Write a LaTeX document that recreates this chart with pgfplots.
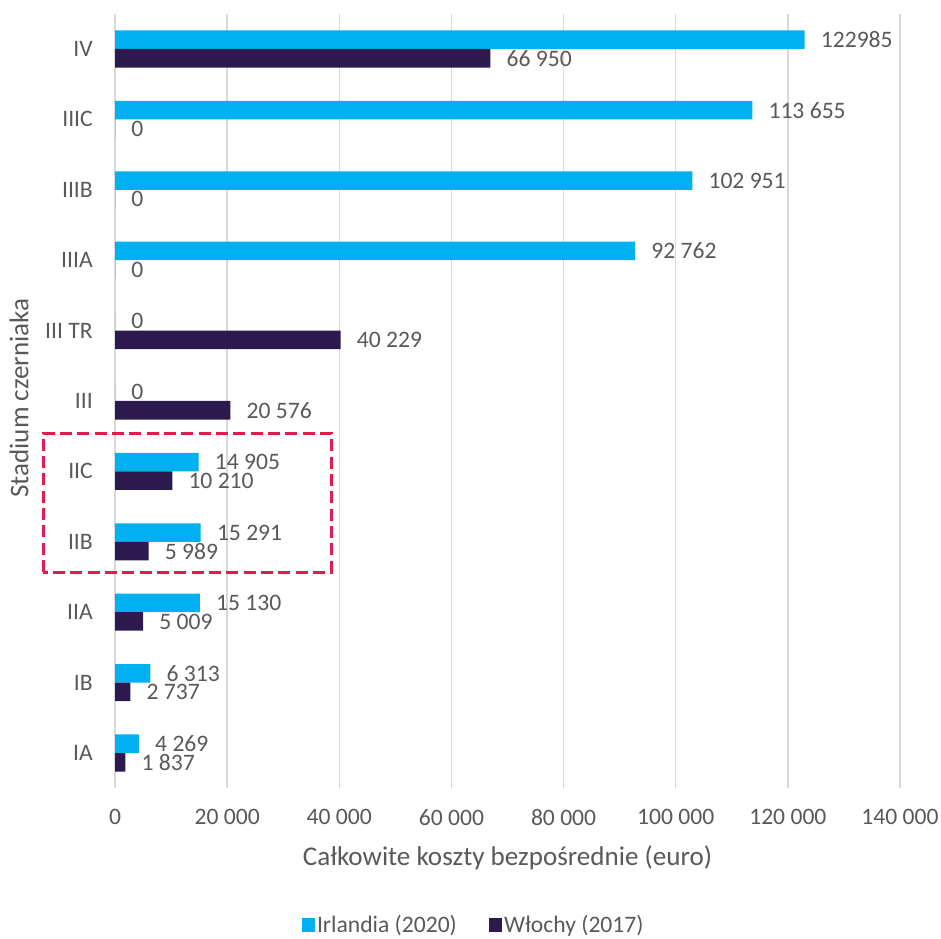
\documentclass[border=0pt]{standalone}
\usepackage{pgfplots}
\pgfplotsset{compat=1.18}
\usepackage{pgfplotstable}
\usepackage{fontspec}
\setmainfont{Carlito}
\definecolor{irl}{HTML}{00B0F0}
\definecolor{wlo}{HTML}{2C1A4E}
\definecolor{txt}{HTML}{595959}
\definecolor{gridc}{HTML}{D9D9D9}
\definecolor{redbox}{HTML}{E6194B}
\newcommand\lab{\fontsize{17.7}{21}\selectfont}
\newcommand\ttl{\fontsize{20.3}{24}\selectfont}

\pgfplotstableread[col sep=comma,row sep=\\]{
y,irl,irllab,wlo,wlolab\\
0,4269,4 269,1837,1 837\\
1,6313,6 313,2737,2 737\\
2,15130,15 130,5009,5 009\\
3,15291,15 291,5989,5 989\\
4,14905,14 905,10210,10 210\\
5,0,0,20576,20 576\\
6,0,0,40229,40 229\\
7,92762,92 762,0,0\\
8,102951,102 951,0,0\\
9,113655,113 655,0,0\\
10,122985,122985,66950,66 950\\
}\data

\begin{document}
\begin{tikzpicture}
\begin{axis}[
  scale only axis,
  width=588.75pt, height=580.8pt,
  xmin=0, xmax=140000, ymin=-0.5, ymax=10.5,
  clip=false,
  scaled x ticks=false,
  axis line style={draw=none},
  major tick length=0pt,
  xmajorgrids, grid style={gridc, line width=1pt},
  xtick={0,20000,40000,60000,80000,100000,120000,140000},
  xticklabels={0,20 000,40 000,60 000,80 000,100 000,120 000,140 000},
  ytick={0,...,10},
  yticklabels={IA,IB,IIA,IIB,IIC,III,III TR,IIIA,IIIB,IIIC,IV},
  /pgf/number format/assume math mode=true,
  xticklabel style={font=\lab, text=txt, anchor=center, yshift=-21.75pt, inner sep=0pt},
  yticklabel style={font=\lab, text=txt, anchor=east, inner sep=0pt, xshift=-16.5pt},
  xlabel={Całkowite koszty bezpośrednie (euro)},
  ylabel={Stadium czerniaka},
  xlabel style={font=\ttl, text=txt, at={(axis description cs:0.5,-0.0901)}, anchor=center},
  ylabel style={font=\ttl, text=txt, at={(axis description cs:-0.1223,0.5039)}, anchor=center, rotate=0},
  legend style={at={(axis description cs:0.4573,-0.1765)}, anchor=center, draw=none, font=\lab, text=txt,
    legend columns=2, /tikz/every even column/.append style={column sep=22pt}},
  nodes near coords,
  point meta=explicit symbolic,
  every node near coord/.append style={font=\lab, text=txt, anchor=west, inner sep=0pt, xshift=12pt},
]
\addplot[xbar, bar width=13.9pt, bar shift=6.95pt, fill=irl, draw=none, forget plot,
  every node near coord/.append style={yshift=6.95pt}]
  table[x=irl, y=y, meta=irllab] {\data};
\addplot[xbar, bar width=13.9pt, bar shift=-6.95pt, fill=wlo, draw=none, forget plot,
  every node near coord/.append style={yshift=-6.95pt}]
  table[x=wlo, y=y, meta=wlolab] {\data};
\addlegendimage{legend image code/.code={\fill[irl] (-2.5pt,-4.9pt) rectangle (6.5pt,4.9pt);}}
\addlegendentry{Irlandia (2020)}
\addlegendimage{legend image code/.code={\fill[wlo] (-2.5pt,-4.9pt) rectangle (6.5pt,4.9pt);}}
\addlegendentry{Włochy (2017)}
\draw[redbox, line width=2.25pt, dash pattern=on 9pt off 4pt]
  (axis cs:-12840,2.571) rectangle (axis cs:38527,4.545);
\coordinate (BL) at (axis cs:-20510,-2.628);
\coordinate (TR) at (axis cs:147312,10.696);
\end{axis}
\pgfresetboundingbox
\useasboundingbox (BL) rectangle (TR);
\end{tikzpicture}
\end{document}
